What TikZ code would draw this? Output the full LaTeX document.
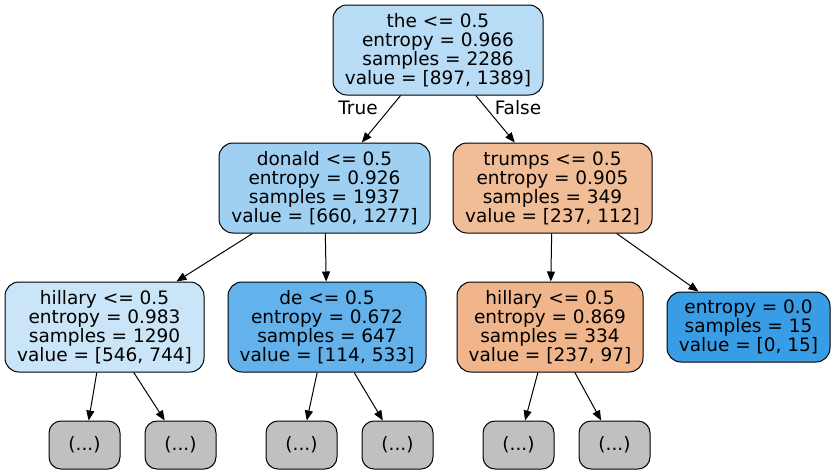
\documentclass[tikz,border=0pt]{standalone}
\usepackage{fontspec}
\setmainfont{DejaVu Sans}
\usetikzlibrary{arrows.meta}
\definecolor{croot}{RGB}{185,220,246}
\definecolor{cdon}{RGB}{159,208,242}
\definecolor{ctru}{RGB}{241,189,151}
\definecolor{chl}{RGB}{202,229,248}
\definecolor{cde}{RGB}{99,178,235}
\definecolor{chr}{RGB}{240,181,138}
\definecolor{cpure}{RGB}{57,157,229}
\definecolor{leafgray}{RGB}{192,192,192}
\begin{document}
\begin{tikzpicture}[x=1pt,y=-1pt,
  tn/.style={draw=black, line width=1pt, rounded corners=14pt, align=center, inner sep=0pt, minimum height=90pt, font=\fontsize{18.5}{19}\selectfont},
  lf/.style={tn, fill=leafgray, minimum width=71pt, minimum height=48pt, rounded corners=12pt},
  ed/.style={line width=1pt, -{Triangle[length=10pt,width=8pt]}},
  lbl/.style={inner sep=0pt, font=\fontsize{18.5}{19}\selectfont}]
\useasboundingbox (0,0) rectangle (835,475);
\node[tn, fill=croot, minimum width=210pt] (root) at (438,50) {the <= 0.5\\entropy = 0.966\\samples = 2286\\value = [897, 1389]};
\node[tn, fill=cdon, minimum width=211pt] (don) at (324.5,188) {donald <= 0.5\\entropy = 0.926\\samples = 1937\\value = [660, 1277]};
\node[tn, fill=ctru, minimum width=199pt] (tru) at (552.5,188) {trumps <= 0.5\\entropy = 0.905\\samples = 349\\value = [237, 112]};
\node[tn, fill=chl, minimum width=199pt] (hl) at (104.5,327) {hillary <= 0.5\\entropy = 0.983\\samples = 1290\\value = [546, 744]};
\node[tn, fill=cde, minimum width=198pt] (de) at (327,327) {de <= 0.5\\entropy = 0.672\\samples = 647\\value = [114, 533]};
\node[tn, fill=chr, minimum width=186pt] (hr) at (550,327) {hillary <= 0.5\\entropy = 0.869\\samples = 334\\value = [237, 97]};
\node[tn, fill=cpure, minimum width=163pt, minimum height=70pt] (pure) at (748.5,327) {entropy = 0.0\\samples = 15\\value = [0, 15]};
\node[lf] (l1) at (84.5,445) {(...)};
\node[lf] (l2) at (180.5,445) {(...)};
\node[lf] (l3) at (301.5,445) {(...)};
\node[lf] (l4) at (397.5,445) {(...)};
\node[lf] (l5) at (518.5,445) {(...)};
\node[lf] (l6) at (614.5,445) {(...)};
\draw[ed] (root) -- (don);
\draw[ed] (root) -- (tru);
\draw[ed] (don) -- (hl);
\draw[ed] (don) -- (de);
\draw[ed] (tru) -- (hr);
\draw[ed] (tru) -- (pure);
\draw[ed] (hl) -- (l1);
\draw[ed] (hl) -- (l2);
\draw[ed] (de) -- (l3);
\draw[ed] (de) -- (l4);
\draw[ed] (hr) -- (l5);
\draw[ed] (hr) -- (l6);
\node[lbl] (true) at (358,108) {True};
\node[lbl] (false) at (518,108) {False};
\end{tikzpicture}
\end{document}
